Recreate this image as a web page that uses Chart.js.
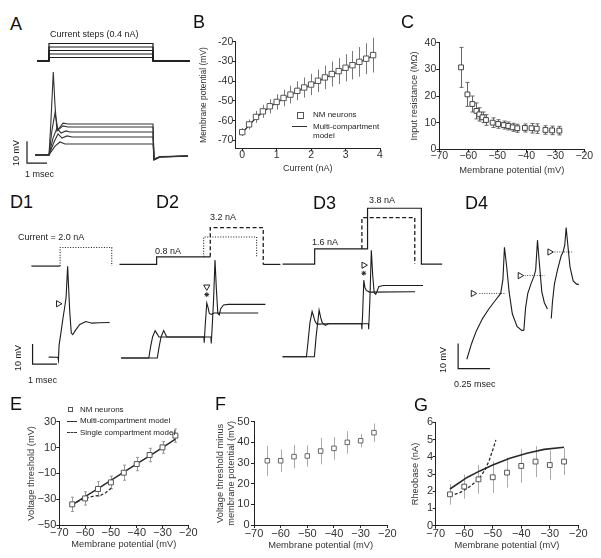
<!DOCTYPE html>
<html>
<head>
<meta charset="utf-8">
<title>NM neurons: recordings and model</title>
<script src="https://cdn.jsdelivr.net/npm/chart.js@4.4.1/dist/chart.umd.min.js"></script>
<style>
  html, body { margin: 0; background: #fff; }
  #fig { position: relative; width: 601px; height: 558px; overflow: hidden;
         font-family: "Liberation Sans", Arial, sans-serif; color: #222; }
  #fig canvas { position: absolute; }
  .t { position: absolute; white-space: nowrap; line-height: 1; transform: translateY(-50%); }
  .r { transform: translate(-50%, -50%) rotate(-90deg); }
  .p { font-size: 18px; color: #111; }
  .s9 { font-size: 9px; }
  .s8 { font-size: 8px; }
  .sw { position: absolute; box-sizing: border-box; }
</style>
</head>
<body>
<div id="fig">
  <canvas id="cA"></canvas>
  <canvas id="cB"></canvas>
  <canvas id="cC"></canvas>
  <canvas id="cD1"></canvas>
  <canvas id="cD2"></canvas>
  <canvas id="cD3"></canvas>
  <canvas id="cD4"></canvas>
  <canvas id="cE"></canvas>
  <canvas id="cF"></canvas>
  <canvas id="cG"></canvas>

  <!-- panel letters -->
  <div class="t p" style="left:10px;top:23.5px">A</div>
  <div class="t p" style="left:193px;top:22px">B</div>
  <div class="t p" style="left:401px;top:22px">C</div>
  <div class="t p" style="left:10px;top:202px">D1</div>
  <div class="t p" style="left:156px;top:202px">D2</div>
  <div class="t p" style="left:313px;top:202.5px">D3</div>
  <div class="t p" style="left:465px;top:203px">D4</div>
  <div class="t p" style="left:10px;top:404px">E</div>
  <div class="t p" style="left:215px;top:403.5px">F</div>
  <div class="t p" style="left:414px;top:404.5px">G</div>

  <!-- trace annotations -->
  <div class="t s9" style="left:50px;top:34px">Current steps (0.4 nA)</div>
  <div class="t s9 r" style="left:16px;top:153px">10 mV</div>
  <div class="t s9" style="left:25px;top:173.5px">1 msec</div>
  <div class="t s9" style="left:18px;top:237px">Current = 2.0 nA</div>
  <div class="t s9" style="left:155px;top:250.5px">0.8 nA</div>
  <div class="t s9" style="left:210px;top:217px">3.2 nA</div>
  <div class="t s9" style="left:312px;top:242px">1.6 nA</div>
  <div class="t s9" style="left:369px;top:199.5px">3.8 nA</div>
  <div class="t s9 r" style="left:18px;top:357.5px">10 mV</div>
  <div class="t s9" style="left:28px;top:380px">1 msec</div>
  <div class="t s9 r" style="left:443px;top:360px">10 mV</div>
  <div class="t s9" style="left:454px;top:383.5px">0.25 msec</div>

  <!-- legend B -->
  <div class="sw" style="left:297px;top:111.5px;width:7px;height:7px;border:1px solid #555"></div>
  <div class="t s8" style="left:313px;top:115px">NM neurons</div>
  <div class="sw" style="left:292px;top:126px;width:15px;height:0;border-top:1.5px solid #333"></div>
  <div class="t s8" style="left:313px;top:127px">Multi-compartment</div>
  <div class="t s8" style="left:313px;top:135.5px">model</div>

  <!-- legend E -->
  <div class="sw" style="left:68px;top:407px;width:5px;height:5px;border:1px solid #555"></div>
  <div class="t s8" style="left:80px;top:409.5px">NM neurons</div>
  <div class="sw" style="left:66.5px;top:420.5px;width:10px;height:0;border-top:1.5px solid #333"></div>
  <div class="t s8" style="left:80px;top:421px">Multi-compartment model</div>
  <div class="sw" style="left:66.5px;top:431.5px;width:10px;height:0;border-top:1.5px dashed #333"></div>
  <div class="t s8" style="left:80px;top:432.5px">Single compartment model</div>
</div>

<script>
// ---------- B: steady-state potential vs injected current ----------
const bCurrent = [0, 0.2, 0.4, 0.6, 0.8, 1, 1.2, 1.4, 1.6, 1.8, 2, 2.2, 2.4, 2.6, 2.8, 3, 3.2, 3.4, 3.6, 3.8];
const bVm = [-65.8, -61.9, -58.1, -55.3, -52.7, -50.5, -48.5, -46.8, -44.9, -43.2, -41.7, -39.8, -38.1, -36.4, -34.9, -33.2, -31.9, -30.2, -28.6, -26.8];
const bVmErr = [2, 2.5, 3, 3.3, 3.6, 3.9, 4.2, 4.5, 4.8, 5.1, 5.4, 5.7, 6, 6.3, 6.6, 6.9, 7.2, 7.5, 7.8, 8.8];
const bModel = [-66.2, -62.3, -58.6, -55.6, -53.1, -50.9, -48.9, -47.0, -45.2, -43.5, -41.8, -40.1, -38.4, -36.8, -35.2, -33.6, -32.0, -30.4, -28.8, -27.2];
const bXTicks = [0, 1, 2, 3, 4];
const bYTicks = [-70, -60, -50, -40, -30, -20];

// ---------- C: input resistance ----------
const cVm = [-62.5, -60.3, -58.6, -57.2, -56.2, -55.1, -53.9, -51.6, -49.7, -47.8, -46.2, -44.7, -43.1, -40.5, -38.2, -36.4, -33.4, -31.1, -28.6];
const cRin = [30.75, 20.6, 17.0, 14.4, 13.1, 12.0, 11.0, 10.0, 9.5, 9.1, 8.75, 8.25, 7.9, 8.0, 7.9, 7.75, 7.25, 7.1, 7.0];
const cRinErr = [7.5, 4.5, 3, 3, 2.5, 2, 2, 1.8, 1.6, 1.5, 1.5, 1.5, 1.5, 1.5, 1.8, 1.8, 1.6, 1.6, 1.6];
const cYTicks = [0, 10, 20, 30, 40];

// ---------- E / F / G: holding potentials ----------
const vmTicks = [-70, -60, -50, -40, -30, -20];
const holdVm = [-65, -60, -55, -50, -45, -40, -35, -30, -25];
const eThresh = [-34, -29.4, -22.1, -17, -9.5, -2.8, 4.2, 10.1, 19.2];
const eThreshErr = [5.55, 5.15, 5.55, 4.9, 5.85, 5.15, 5.2, 4.5, 5.15];
const eMulti = [-34.5, -28.1, -21.8, -15.4, -9.1, -2.7, 3.6, 10, 16.6];
const eSingleVm = [-65, -61, -57, -54, -52, -50.5, -49.5];
const eSingle = [-34, -30, -27.8, -27, -25, -22.5, -20.8];
const eYTicks = [-50, -30, -10, 10, 30];

const fDiff = [31.1, 31.1, 33.1, 33.4, 35.8, 37.1, 40, 40.8, 44.7];
const fDiffErr = [7.25, 5.4, 5.65, 5.1, 6.4, 5.45, 5.45, 3.25, 4.45];
const fYTicks = [0, 10, 20, 30, 40, 50];

const gRheo = [1.82, 2.27, 2.69, 2.81, 3.08, 3.47, 3.72, 3.52, 3.72];
const gRheoErr = [0.6, 0.7, 0.83, 0.91, 0.87, 0.97, 0.9, 0.85, 0.78];
const gMultiVm = [-65, -59, -54.5, -50, -44, -38, -32, -25];
const gMulti = [2.13, 2.8, 3.18, 3.52, 3.91, 4.2, 4.43, 4.55];
const gSingleVm = [-65, -61.5, -58, -55, -52.7, -51.2, -50, -48.9];
const gSingle = [1.73, 1.92, 2.27, 2.69, 3.23, 3.81, 4.39, 4.97];
const gYTicks = [0, 1, 2, 3, 4, 5, 6];

// ---------- A: responses to 0.4 nA current steps (t in ms, V in mV, I in nA) ----------
const aStepLevels = [0.4, 0.8, 1.2, 1.6, 2.0];
const aStepTimes = [-0.6, 0, 5.2, 7.05]; // start, on, off, end
const aTraces = [
  [[-0.7, -65], [0, -65], [0.1, -48.9], [0.215, -26.8], [0.3, -42], [0.4, -53.9], [0.55, -52.1], [0.7, -50.3], [0.95, -50.7], [5.2, -50.7], [5.25, -67.3], [5.55, -65.9], [6.95, -65.5]],
  [[-0.7, -65], [0, -65], [0.15, -53.5], [0.3, -45.6], [0.45, -53.5], [0.7, -51.6], [0.95, -52.1], [5.2, -52.1], [5.25, -67.3], [5.55, -65.9], [6.95, -65.5]],
  [[-0.7, -65], [0, -65], [0.2, -57.2], [0.4, -52.6], [0.6, -54.9], [0.85, -53.9], [1.05, -54.4], [5.2, -54.4], [5.25, -67.1], [5.55, -65.8], [6.95, -65.5]],
  [[-0.7, -65], [0, -65], [0.25, -59], [0.45, -55.3], [0.65, -57.2], [0.9, -56.2], [1.15, -56.7], [5.2, -56.7], [5.25, -67], [5.55, -65.8], [6.95, -65.5]],
  [[-0.7, -65], [0, -65], [0.3, -60.9], [0.55, -59], [0.8, -59.9], [1.15, -59.9], [5.2, -59.9], [5.25, -66.8], [5.55, -65.7], [6.95, -65.5]],
];
const aScaleBar = [[-1.1, -58.7], [-1.1, -68.7], [-0.1, -68.7]];

// ---------- D1 ----------
const d1Base = [[-1.18, 0], [0, 0]];
const d1Step = [[0, 0], [0, 2.0], [2.116, 2.0], [2.116, 0]];
const d1Trace = [[-0.47, -64.9], [-0.09, -65], [-0.07, -66.4], [-0.045, -59.1], [0.03, -53.0], [0.12, -45.3], [0.18, -40.7], [0.243, -35.4], [0.307, -20.0], [0.345, -30.0], [0.393, -42.3], [0.457, -53.0], [0.517, -53.8], [0.618, -51.8], [0.805, -48.7], [1.056, -47.3], [1.303, -48.1], [1.618, -47.9], [2.03, -47.8]];
const d1Threshold = [[-0.075, -38.5]];
const d1ScaleBar = [[-1.131, -58.4], [-1.131, -68.4], [-0.131, -68.4]];

// ---------- D2 (step heights as drawn in the original) ----------
const d2Base = [[-1.472, 0], [0, 0], [0, 0.8], [2.124, 0.8]];
const d2Dotted = [[1.861, 0.8], [1.861, 2.9], [3.959, 2.9], [3.959, 0.8]];
const d2Dashed = [[2.124, 0.8], [2.124, 3.9], [4.221, 3.9], [4.221, 0]];
const d2Tail = [[4.221, 0], [4.9, 0]];
const d2TraceA = [[-1.408, -65], [-0.311, -65], [-0.236, -59.3], [-0.161, -54.7], [-0.06, -51.6], [0.026, -53.3], [0.09, -54.7], [0.213, -54.7], [1.873, -54.7], [1.884, -57.5], [1.918, -50.1], [1.985, -38.1], [2.03, -40], [2.086, -43.2], [2.16, -43.7], [2.273, -43], [4.022, -43]];
const d2TraceB = [[-1.408, -65], [0.026, -65], [0.101, -59.3], [0.176, -54.7], [0.277, -51.6], [0.345, -53.3], [0.401, -54.7], [0.513, -54.7], [2.15, -54.7], [2.161, -57.9], [2.199, -50.1], [2.255, -36.3], [2.311, -17.1], [2.367, -31.7], [2.423, -43.2], [2.479, -43.9], [2.536, -40.9], [2.648, -39.1], [2.835, -38.8], [4.307, -38.8]];
const d2Threshold = [[1.985, -30.2]];
const d2Star = [[1.985, -34.0]];

// ---------- D3 ----------
const d3Solid = [[-1.273, 0], [0, 0], [0, 1.6], [2.097, 1.6], [2.097, 5.9], [4.232, 5.9], [4.232, 0], [5.056, 0]];
const d3Dashed = [[1.873, 1.6], [1.873, 4.9], [3.97, 4.9], [3.97, 0]];
const d3TraceA = [[-1.273, -65], [-0.326, -65], [-0.262, -57.6], [-0.187, -48.4], [-0.101, -43.0], [-0.045, -45.2], [0.011, -47.6], [0.075, -48.9], [0.15, -49.1], [0.551, -48.9], [1.861, -48.9], [1.873, -51.6], [1.903, -43.8], [1.948, -27.7], [1.996, -31.4], [2.049, -32.7], [2.172, -33.5], [3.981, -33.3]];
const d3TraceB = [[-1.273, -65], [-0.011, -65], [0.056, -55.3], [0.176, -42.3], [0.243, -46.1], [0.3, -48.4], [0.423, -49.7], [0.551, -48.9], [2.135, -48.9], [2.142, -51.6], [2.191, -36.9], [2.247, -13.1], [2.303, -25.4], [2.36, -33.8], [2.423, -34.6], [2.547, -30.8], [2.734, -30.3], [4.296, -30.3]];
const d3Threshold = [[1.948, -20.4]];
const d3Star = [[1.948, -24.3]];

// ---------- D4: spikes on a fast time base ----------
const d4Trace12 = [[0, -60], [0.0368, -53.8], [0.0735, -48.8], [0.1228, -43.8], [0.1721, -40], [0.2213, -36.7], [0.2654, -33.8], [0.2831, -28.2], [0.2949, -15.4], [0.3125, -23.2], [0.3316, -33.2], [0.3566, -41.9], [0.3934, -46.9], [0.4301, -48.5], [0.4471, -48.4], [0.461, -39.4], [0.478, -33.8], [0.503, -30], [0.527, -26.9], [0.54, -24.4], [0.554, -12.6], [0.569, -21.9], [0.588, -33.2], [0.608, -37.5], [0.632, -40]];
const d4Trace3 = [[0.662, -43.8], [0.672, -36.9], [0.687, -30], [0.711, -24.4], [0.74, -18.8], [0.755, -17.3], [0.768, -14.5], [0.779, -7.6], [0.792, -14.5], [0.809, -23.2], [0.834, -28.8], [0.858, -30], [0.878, -30.3]];
const d4ThreshLines = [
  [[0.0985, -33.8], [0.3066, -33.8]],
  [[0.454, -26.7], [0.608, -26.7]],
  [[0.687, -17.3], [0.834, -17.3]],
];
const d4Thresholds = [[0.049, -33.8], [0.417, -26.7], [0.65, -17.3]];
const d4ScaleBar = [[-0.0684, -53.7], [-0.0684, -63.7], [0.1816, -63.7]];

// ---------------------------------------------------------------
const INK = "#222";
Chart.defaults.font.family = '"Liberation Sans", Arial, sans-serif';
Chart.defaults.color = "#333";
Chart.defaults.animation = false;
Chart.defaults.events = [];
Chart.defaults.plugins.legend.display = false;
Chart.defaults.plugins.tooltip.enabled = false;

const pts = (xs, ys) => xs.map((x, i) => ({ x, y: ys[i] }));
const pairs = (a) => a.map(([x, y]) => ({ x, y }));
const minus = (v) => String(v).replace("-", "\u2212");

// vertical error bars, drawn under the markers
const errorBars = {
  id: "errorBars",
  beforeDatasetsDraw(chart) {
    const { ctx, scales: { x, y } } = chart;
    chart.data.datasets.forEach((ds) => {
      if (!ds.err) return;
      ctx.save();
      ctx.strokeStyle = ds.errColor;
      ctx.lineWidth = 1;
      ds.data.forEach((p, i) => {
        const px = Math.round(x.getPixelForValue(p.x)) + 0.5;
        const y0 = y.getPixelForValue(p.y - ds.err[i]);
        const y1 = y.getPixelForValue(p.y + ds.err[i]);
        ctx.beginPath();
        ctx.moveTo(px, y0);
        ctx.lineTo(px, y1);
        if (ds.cap) {
          ctx.moveTo(px - ds.cap, y0); ctx.lineTo(px + ds.cap, y0);
          ctx.moveTo(px - ds.cap, y1); ctx.lineTo(px + ds.cap, y1);
        }
        ctx.stroke();
      });
      ctx.restore();
    });
  },
};

function squares(data, err, o) {
  return Object.assign({
    data, err, errColor: "#888", showLine: false, pointStyle: "rect", pointRadius: 3.5,
    pointBorderColor: "#555", pointBackgroundColor: "#fff", pointBorderWidth: 1,
  }, o);
}
function curve(data, o) {
  return Object.assign({ data, showLine: true, pointRadius: 0, borderColor: "#2a2a2a", borderWidth: 1.5 }, o);
}

// box = plot area in page pixels
function dataPanel(id, box, o) {
  const cv = document.getElementById(id);
  const left = Math.floor(box.L - o.padL), top = Math.floor(box.T - 8);
  const right = Math.ceil(box.R + 14), bottom = Math.ceil(box.B + 31);
  cv.width = right - left; cv.height = bottom - top;
  cv.style.left = left + "px"; cv.style.top = top + "px";
  const lh = o.titleSize * 1.2;
  const axis = (ticks, pad) => ({
    type: "linear",
    border: { display: true, color: INK, width: 1 },
    grid: { drawOnChartArea: false, drawTicks: true, tickLength: 3, color: INK, lineWidth: 1 },
    ticks: {
      autoSkip: false, maxRotation: 0, padding: pad, color: "#333",
      font: { size: o.tickSize, lineHeight: 1 },
      callback: o.minus ? minus : (v) => String(v),
    },
    afterBuildTicks: (s) => { s.ticks = ticks.map((v) => ({ value: v })); },
  });
  return new Chart(cv, {
    type: "scatter",
    data: { datasets: o.datasets },
    options: {
      responsive: false,
      devicePixelRatio: 1,
      layout: { padding: { left: 0, top: box.T - top, right: right - box.R, bottom: 0 } },
      scales: {
        x: Object.assign(axis(o.xTicks, o.xPad), {
          min: o.xMin, max: o.xMax,
          afterFit: (s) => { s.height = bottom - box.B; },
          title: { display: true, text: o.xTitle, color: "#333",
                   font: { size: o.xTitleSize || o.titleSize, lineHeight: 1.2 },
                   padding: { top: 0, bottom: bottom - o.xTitleY - (o.xTitleSize || o.titleSize) * 0.6 } },
        }),
        y: Object.assign(axis(o.yTicks, o.yPad), {
          min: o.yMin, max: o.yMax,
          afterFit: (s) => { s.width = box.L - left; },
          title: { display: true, text: o.yTitle, color: "#333",
                   font: { size: o.titleSize, lineHeight: 1.2 },
                   padding: { top: o.yTitleX - left - lh / 2, bottom: 0 } },
        }),
      },
    },
    plugins: [errorBars],
  });
}

// trace panels: hidden linear axes mapped to the page with the figure's scale bars
function tracePanel(id, rect, m, datasets) {
  const cv = document.getElementById(id);
  cv.width = rect.w; cv.height = rect.h;
  cv.style.left = rect.x + "px"; cv.style.top = rect.y + "px";
  const scales = {
    x: { type: "linear", display: false,
         min: (rect.x - m.tPx) / m.pxMs, max: (rect.x + rect.w - m.tPx) / m.pxMs },
    y: { type: "linear", display: false,
         max: m.v0 + (m.vPx - rect.y) / m.pxMv, min: m.v0 + (m.vPx - rect.y - rect.h) / m.pxMv },
    i: { type: "linear", display: false, position: "right",
         max: m.iPx ? (m.iPx - rect.y) / m.pxNa : 1, min: m.iPx ? (m.iPx - rect.y - rect.h) / m.pxNa : 0 },
  };
  return new Chart(cv, {
    type: "scatter",
    data: { datasets },
    options: { responsive: false, devicePixelRatio: 1, layout: { padding: 0 }, scales },
  });
}

const trace = (d, o) => Object.assign({ data: pairs(d), showLine: true, pointRadius: 0,
  borderColor: "#1c1c1c", borderWidth: 1.1, clip: false }, o);
const step = (d, o) => trace(d, Object.assign({ yAxisID: "i", borderWidth: 1.2 }, o));
const marker = (d, style, rot, r) => ({ data: pairs(d), showLine: false, pointStyle: style,
  pointRotation: rot, pointRadius: r, pointBorderColor: INK, pointBackgroundColor: "#fff", pointBorderWidth: 1, clip: false });
const DOT = [1, 1.6], DASH = [4, 2.5];

// ---- A ----
const [aPre, aOn, aOff, aEnd] = aStepTimes;
tracePanel("cA", { x: 20, y: 38, w: 178, h: 134 },
  { tPx: 49, pxMs: 20, vPx: 155, v0: -65, pxMv: 2.17, iPx: 61, pxNa: 8.75 },
  [
    ...aStepLevels.map((L) => step([[aPre, 0], [aOn, 0], [aOn, L], [aOff, L], [aOff, 0], [aEnd, 0]])),
    ...aTraces.map((t) => trace(t, { borderColor: "#333" })),
    trace(aScaleBar, { borderWidth: 1.2 }),
  ]);

// ---- D1 .. D3 share the 10 mV / 1 msec bar of D1 ----
const dScale = { pxMs: 26.7, v0: -65, pxMv: 2.17, pxNa: 10, iPx: 263 };
tracePanel("cD1", { x: 20, y: 235, w: 115, h: 145 }, Object.assign({ tPx: 58.5, vPx: 361 }, dScale), [
  marker(d1Threshold, "triangle", 90, 3.6),
  step(d1Base),
  step(d1Step, { borderDash: DOT, borderWidth: 1.1 }),
  trace(d1Trace),
  trace(d1ScaleBar, { borderWidth: 1.2 }),
]);
tracePanel("cD2", { x: 105, y: 200, w: 185, h: 175 }, Object.assign({ tPx: 154.3, vPx: 362.3 }, dScale), [
  marker(d2Threshold, "triangle", 180, 3.6),
  marker(d2Star, "star", 0, 2.4),
  step(d2Base),
  step(d2Dotted, { borderDash: DOT, borderWidth: 1.1 }),
  step(d2Dashed, { borderDash: DASH, borderWidth: 1.3 }),
  step(d2Tail),
  trace(d2TraceA),
  trace(d2TraceB),
]);
tracePanel("cD3", { x: 270, y: 190, w: 180, h: 185 }, Object.assign({ tPx: 312, vPx: 361 }, dScale), [
  marker(d3Threshold, "triangle", 90, 3.6),
  marker(d3Star, "star", 0, 2.4),
  step(d3Solid),
  step(d3Dashed, { borderDash: DASH, borderWidth: 1.3 }),
  trace(d3TraceA),
  trace(d3TraceB),
]);
tracePanel("cD4", { x: 440, y: 210, w: 160, h: 170 }, { tPx: 463.3, pxMs: 136, vPx: 363.3, v0: -60, pxMv: 2.67 }, [
  marker(d4Thresholds, "triangle", 90, 3.6),
  ...d4ThreshLines.map((l) => trace(l, { borderDash: [1, 1.4], borderColor: "#444", borderWidth: 1 })),
  trace(d4Trace12),
  trace(d4Trace3),
  trace(d4ScaleBar, { borderWidth: 1.2 }),
]);

// ---- B ----
dataPanel("cB", { L: 235.3, R: 380, T: 41.7, B: 148.3 }, {
  padL: 45, tickSize: 10.5, titleSize: 8.5, xTitleSize: 9, minus: false,
  xMin: -0.2, xMax: 4, yMin: -74, yMax: -20, xTicks: bXTicks, yTicks: bYTicks,
  xPad: -1.5, yPad: -1,
  xTitle: "Current (nA)", xTitleY: 169, yTitle: "Membrane potential (mV)", yTitleX: 204,
  datasets: [
    squares(pts(bCurrent, bVm), bVmErr, { pointRadius: 3.8, errColor: "#777" }),
    curve(pts(bCurrent, bModel), { borderWidth: 1.3 }),
  ],
});

// ---- C ----
dataPanel("cC", { L: 439.3, R: 584.3, T: 42.7, B: 149.3 }, {
  padL: 35, tickSize: 10.5, titleSize: 9.3, minus: true,
  xMin: -70, xMax: -20, yMin: 0, yMax: 40, xTicks: vmTicks, yTicks: cYTicks,
  xPad: -1, yPad: 0,
  xTitle: "Membrane potential (mV)", xTitleY: 170.7, yTitle: "Input resistance (M\u03A9)", yTitleX: 414,
  datasets: [squares(pts(cVm, cRin), cRinErr, { pointRadius: 3.4, errColor: "#666", cap: 2, pointBorderColor: "#444" })],
});

// ---- E ----
dataPanel("cE", { L: 59.3, R: 188.3, T: 421.7, B: 525 }, {
  padL: 40, tickSize: 11, titleSize: 9.3, minus: true,
  xMin: -70, xMax: -20, yMin: -50, yMax: 30, xTicks: vmTicks, yTicks: eYTicks,
  xPad: -1, yPad: 0,
  xTitle: "Membrane potential (mV)", xTitleY: 544.3, yTitle: "Voltage threshold (mV)", yTitleX: 31.7,
  datasets: [
    squares(pts(holdVm, eThresh), eThreshErr, { errColor: "#9a9a9a", cap: 1.5 }),
    curve(pts(holdVm, eMulti)),
    curve(pts(eSingleVm, eSingle), { borderDash: [3, 2], borderWidth: 1.3 }),
  ],
});

// ---- F ----
dataPanel("cF", { L: 254, R: 387.3, T: 421.7, B: 525 }, {
  padL: 50, tickSize: 11, titleSize: 9.3, minus: true,
  xMin: -70, xMax: -20, yMin: 0, yMax: 50, xTicks: vmTicks, yTicks: fYTicks,
  xPad: 0, yPad: 1.5,
  xTitle: "Membrane potential (mV)", xTitleY: 545,
  yTitle: ["Voltage threshold minus", "membrane potential (mV)"], yTitleX: 220.7,
  datasets: [squares(pts(holdVm, fDiff), fDiffErr, { pointRadius: 3.2, errColor: "#aaa", pointBorderColor: "#666" })],
});

// ---- G ----
dataPanel("cG", { L: 435.7, R: 578.3, T: 422.3, B: 525.7 }, {
  padL: 35, tickSize: 11, titleSize: 9.3, minus: true,
  xMin: -70, xMax: -20, yMin: 0, yMax: 6, xTicks: vmTicks, yTicks: gYTicks,
  xPad: 0, yPad: -0.5,
  xTitle: "Membrane potential (mV)", xTitleY: 545, yTitle: "Rheobase (nA)", yTitleX: 415,
  datasets: [
    squares(pts(holdVm, gRheo), gRheoErr, { pointRadius: 3.4, errColor: "#aaa" }),
    curve(pts(gMultiVm, gMulti), { borderWidth: 1.6 }),
    curve(pts(gSingleVm, gSingle), { borderDash: [3, 2], borderWidth: 1.3 }),
  ],
});
</script>
</body>
</html>
